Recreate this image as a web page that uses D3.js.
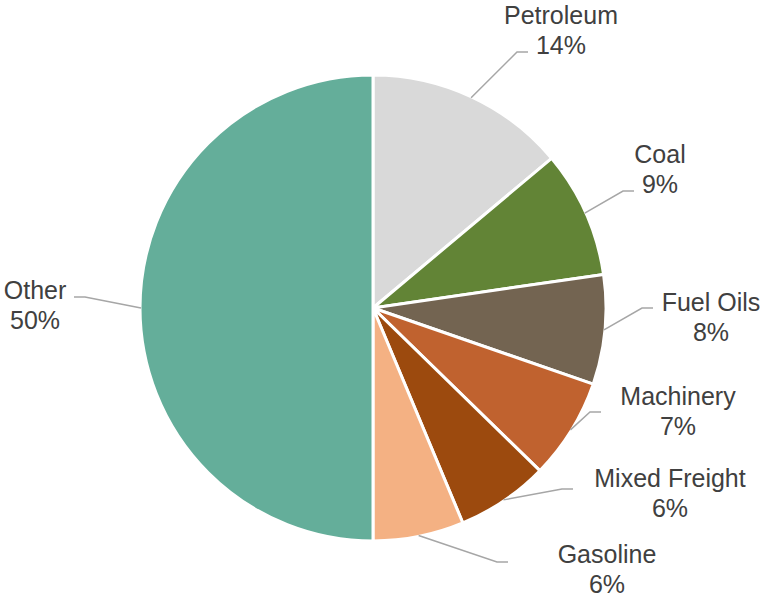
<!DOCTYPE html>
<html>
<head>
<meta charset="utf-8">
<script src="https://cdn.jsdelivr.net/npm/d3@7"></script>
<style>
  body { margin: 0; background: #fff; }
  text { font-family: "Liberation Sans", Arial, sans-serif; }
</style>
</head>
<body>
<div id="chart"></div>
<script>
// data
var categories = ["Petroleum", "Coal", "Fuel Oils", "Machinery", "Mixed Freight", "Gasoline", "Other"];
var shares = [13.9, 8.8, 7.6, 7.0, 6.4, 6.3, 50.0];
var colors = ["#d9d9d9", "#628436", "#736451", "#c0622f", "#9c4a0e", "#f4b183", "#64ae9a"];

// label placement (relative to pie centre): text x, first baseline, leader elbow
var labelLayout = [
    { tx: 188, ty: -284, ex: 144, ey: -256 },
    { tx: 287, ty: -145, ex: 250, ey: -117 },
    { tx: 338, ty: 3,    ex: 269, ey: 0 },
    { tx: 305, ty: 97,   ex: 217, ey: 104 },
    { tx: 297, ty: 179,  ex: 189, ey: 181 },
    { tx: 234, ty: 255,  ex: 124, ey: 254 },
    { tx: -338, ty: -9,  ex: -288, ey: -11 }
];

var width = 762, height = 597;
var cx = 373, cy = 308, radius = 233;

var svg = d3.select("#chart")
    .append("svg")
    .attr("width", width)
    .attr("height", height);

var g = svg.append("g")
    .attr("transform", "translate(" + cx + "," + cy + ")");

var data = categories.map(function(c, i) {
    return { name: c, value: shares[i], color: colors[i], layout: labelLayout[i] };
});

var pie = d3.pie()
    .sort(null)
    .value(function(d) { return d.value; });

var arc = d3.arc()
    .innerRadius(0)
    .outerRadius(radius);

var arcs = pie(data);

g.selectAll("path.slice")
    .data(arcs)
    .enter()
    .append("path")
    .attr("class", "slice")
    .attr("d", arc)
    .attr("fill", function(d) { return d.data.color; })
    .attr("stroke", "#fff")
    .attr("stroke-width", 3)
    .attr("stroke-linejoin", "round");

var fmt = function(v) { return Math.round(v) + "%"; };

// leader lines
g.selectAll("polyline.leader")
    .data(arcs)
    .enter()
    .append("polyline")
    .attr("class", "leader")
    .attr("fill", "none")
    .attr("stroke", "#a6a6a6")
    .attr("stroke-width", 1.5)
    .attr("points", function(d) {
        var a = (d.startAngle + d.endAngle) / 2;
        var sx = Math.sin(a) * (radius - 1);
        var sy = -Math.cos(a) * (radius - 1);
        var L = d.data.layout;
        var dir = L.ex < 0 ? -1 : 1;
        return [[sx, sy], [L.ex, L.ey], [L.ex + dir * 11, L.ey]].join(" ");
    });

// labels
var labels = g.selectAll("text.label")
    .data(arcs)
    .enter()
    .append("text")
    .attr("class", "label")
    .attr("text-anchor", "middle")
    .attr("fill", "#404040")
    .style("font-size", "25px");

labels.append("tspan")
    .attr("x", function(d) { return d.data.layout.tx; })
    .attr("y", function(d) { return d.data.layout.ty; })
    .text(function(d) { return d.data.name; });

labels.append("tspan")
    .attr("x", function(d) { return d.data.layout.tx; })
    .attr("y", function(d) { return d.data.layout.ty + 30; })
    .text(function(d) { return fmt(d.data.value); });
</script>
</body>
</html>
